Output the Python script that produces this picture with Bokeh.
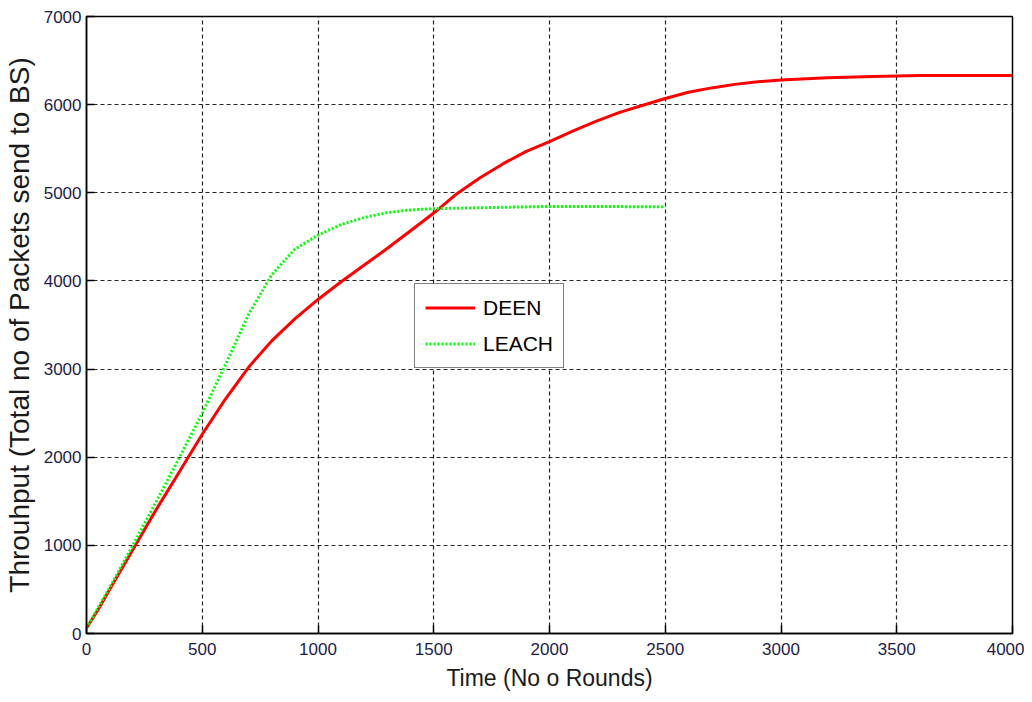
from bokeh.plotting import figure
from bokeh.models import Range1d, Legend, LegendItem, FixedTicker
from bokeh.embed import file_html
from bokeh.resources import INLINE

# DEEN throughput
deen_rounds = [0, 50, 100, 200, 300, 400, 500, 600, 700, 800, 900, 1000, 1100, 1200, 1300,
               1400, 1500, 1600, 1700, 1800, 1900, 2000, 2100, 2200, 2300, 2400, 2500, 2600,
               2700, 2800, 2900, 3000, 3200, 3400, 3600, 3800, 4000]
deen_packets = [60, 270, 500, 950, 1400, 1830, 2260, 2660, 3020, 3320, 3570, 3790, 3990, 4180,
                4370, 4570, 4770, 4990, 5170, 5330, 5470, 5580, 5700, 5810, 5910, 5990, 6070,
                6140, 6190, 6230, 6260, 6280, 6305, 6320, 6330, 6330, 6330]

# LEACH throughput
leach_rounds = [0, 50, 100, 200, 300, 400, 500, 600, 700, 800, 900, 1000, 1100, 1200, 1300,
                1400, 1500, 1600, 1800, 2000, 2200, 2500]
leach_packets = [60, 290, 520, 1000, 1490, 1990, 2500, 3050, 3620, 4070, 4360, 4520, 4640, 4720,
                 4775, 4805, 4820, 4825, 4835, 4845, 4845, 4840]

x_ticks = [0, 500, 1000, 1500, 2000, 2500, 3000, 3500, 4000]
y_ticks = [0, 1000, 2000, 3000, 4000, 5000, 6000, 7000]

p = figure(width=1024, height=694, output_backend="svg", toolbar_location=None,
           x_range=Range1d(0, 4000), y_range=Range1d(0, 7000),
           min_border_left=85, min_border_right=12, min_border_top=16, min_border_bottom=61)
p.background_fill_color = "white"
p.border_fill_color = "white"
p.outline_line_color = "black"
p.outline_line_width = 1.5

r1 = p.line(deen_rounds, deen_packets, line_color="#ff0000", line_width=3)
r2 = p.line(leach_rounds, leach_packets, line_color="#00ff00", line_width=3, line_dash="2 2")

for ax in (p.xaxis[0], p.yaxis[0]):
    ax.major_tick_in = 8
    ax.major_tick_out = 0
    ax.minor_tick_in = 0
    ax.minor_tick_out = 0
    ax.axis_line_color = "black"
    ax.axis_line_width = 1.5
    ax.major_tick_line_color = "black"
    ax.major_tick_line_width = 1.5
    ax.major_label_text_font = "Liberation Sans"
    ax.major_label_text_font_size = "17px"
    ax.major_label_text_color = "#1c1c4a"
    ax.axis_label_text_font = "Liberation Sans"
    ax.axis_label_text_font_style = "normal"
    ax.axis_label_text_color = "#1a1a1a"

p.xaxis[0].ticker = FixedTicker(ticks=x_ticks)
p.yaxis[0].ticker = FixedTicker(ticks=y_ticks)
p.xaxis[0].axis_label = "Time (No o Rounds)"
p.yaxis[0].axis_label = "Throuhput (Total no of Packets send to BS)"
p.xaxis[0].axis_label_text_font_size = "23px"
p.yaxis[0].axis_label_text_font_size = "28px"
p.xaxis[0].major_label_standoff = 9
p.yaxis[0].major_label_standoff = 5
p.xaxis[0].axis_label_standoff = 7
p.yaxis[0].axis_label_standoff = 6

for g in (p.xgrid[0], p.ygrid[0]):
    g.grid_line_color = "black"
    g.grid_line_dash = "4 3"
    g.grid_line_width = 1.2
    g.grid_line_alpha = 0.85
p.xgrid[0].ticker = FixedTicker(ticks=x_ticks)
p.ygrid[0].ticker = FixedTicker(ticks=y_ticks)

legend = Legend(items=[LegendItem(label="DEEN", renderers=[r1]),
                       LegendItem(label="LEACH", renderers=[r2])],
                location=(328, 265))
legend.border_line_color = "black"
legend.border_line_width = 1.5
legend.background_fill_color = "white"
legend.background_fill_alpha = 1
legend.label_text_font = "Liberation Sans"
legend.label_text_font_size = "21px"
legend.label_text_color = "black"
legend.glyph_width = 50
legend.glyph_height = 27
legend.label_height = 27
legend.label_standoff = 8
legend.spacing = 9
legend.padding = 10
legend.margin = 0
p.add_layout(legend, "center")

open("out.html", "w").write(file_html(p, INLINE))
